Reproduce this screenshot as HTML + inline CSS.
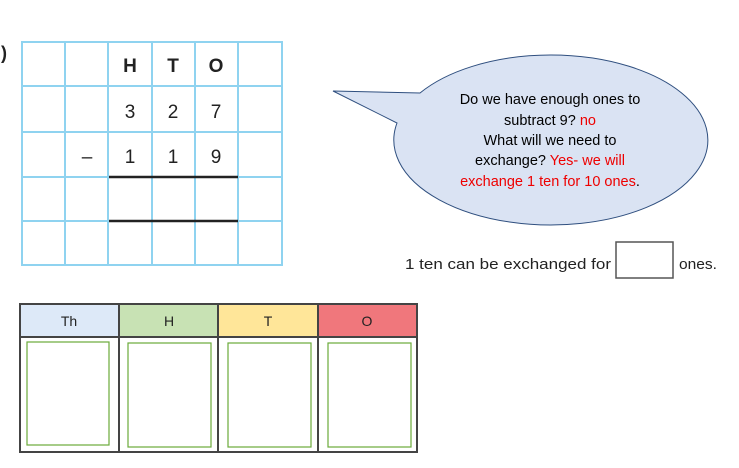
<!DOCTYPE html>
<html><head><meta charset="utf-8"><style>
body{margin:0;width:739px;height:468px;background:#fff;position:relative;overflow:hidden;font-family:"Liberation Sans",sans-serif}
</style></head><body>
<svg width="739" height="468" style="position:absolute;left:0;top:0">
<text x="1" y="59" font-size="18" font-weight="bold" fill="#222">)</text>
<g stroke="#8fd3f0" stroke-width="2" fill="none">
<rect x="22" y="42" width="260" height="223"/>
<line x1="65" y1="42" x2="65" y2="265"/><line x1="108" y1="42" x2="108" y2="265"/>
<line x1="152" y1="42" x2="152" y2="265"/><line x1="195" y1="42" x2="195" y2="265"/>
<line x1="238" y1="42" x2="238" y2="265"/>
<line x1="22" y1="86" x2="282" y2="86"/><line x1="22" y1="132" x2="282" y2="132"/>
<line x1="22" y1="177" x2="282" y2="177"/><line x1="22" y1="221" x2="282" y2="221"/>
</g>
<line x1="109" y1="177" x2="238" y2="177" stroke="#222" stroke-width="2.5"/>
<line x1="109" y1="221" x2="238" y2="221" stroke="#222" stroke-width="2.5"/>
<g font-size="19" fill="#222" text-anchor="middle">
<text x="130" y="72" font-weight="bold">H</text><text x="173" y="72" font-weight="bold">T</text><text x="216" y="72" font-weight="bold">O</text>
<text x="130" y="118">3</text><text x="173" y="118">2</text><text x="216" y="118">7</text>
<text x="87" y="163">–</text><text x="130" y="163">1</text><text x="173" y="163">1</text><text x="216" y="163">9</text>
</g>
<path d="M420,93 A157,85 0 1 1 397,123 L333,91 Z" fill="#dae3f3" stroke="#2f4f7f" stroke-width="1"/>
<g font-family="Liberation Sans,sans-serif" font-size="14.5" text-anchor="middle" fill="#000">
<text x="550" y="104">Do we have enough ones to</text>
<text x="550" y="125">subtract 9? <tspan fill="#e00">no</tspan></text>
<text x="550" y="145">What will we need to</text>
<text x="550" y="165">exchange? <tspan fill="#e00">Yes- we will</tspan></text>
<text x="550" y="186"><tspan fill="#e00">exchange 1 ten for 10 ones</tspan>.</text>
</g>
<text x="405" y="269" font-size="15" fill="#222" textLength="206" lengthAdjust="spacingAndGlyphs">1 ten can be exchanged for</text>
<rect x="616" y="242" width="57" height="36" fill="#fff" stroke="#555" stroke-width="1.5"/>
<text x="679" y="269" font-size="15" fill="#222" textLength="38" lengthAdjust="spacingAndGlyphs">ones.</text>
<rect x="20" y="304" width="99" height="33" fill="#dde9f8"/>
<rect x="119" y="304" width="99" height="33" fill="#c8e2b4"/>
<rect x="218" y="304" width="100" height="33" fill="#ffe699"/>
<rect x="318" y="304" width="99" height="33" fill="#f0777c"/>
<g stroke="#444" stroke-width="2" fill="none">
<rect x="20" y="304" width="397" height="148"/>
<line x1="20" y1="337" x2="417" y2="337"/>
<line x1="119" y1="304" x2="119" y2="452"/><line x1="218" y1="304" x2="218" y2="452"/><line x1="318" y1="304" x2="318" y2="452"/>
</g>
<g stroke="#6aaa3a" stroke-width="1.2" fill="none">
<rect x="27" y="342" width="82" height="103"/><rect x="128" y="343" width="83" height="104"/>
<rect x="228" y="343" width="83" height="104"/><rect x="328" y="343" width="83" height="104"/>
</g>
<g font-size="14" fill="#222" text-anchor="middle">
<text x="69" y="326">Th</text><text x="169" y="326">H</text><text x="268" y="326">T</text><text x="367" y="326">O</text>
</g>
</svg>
</body></html>
